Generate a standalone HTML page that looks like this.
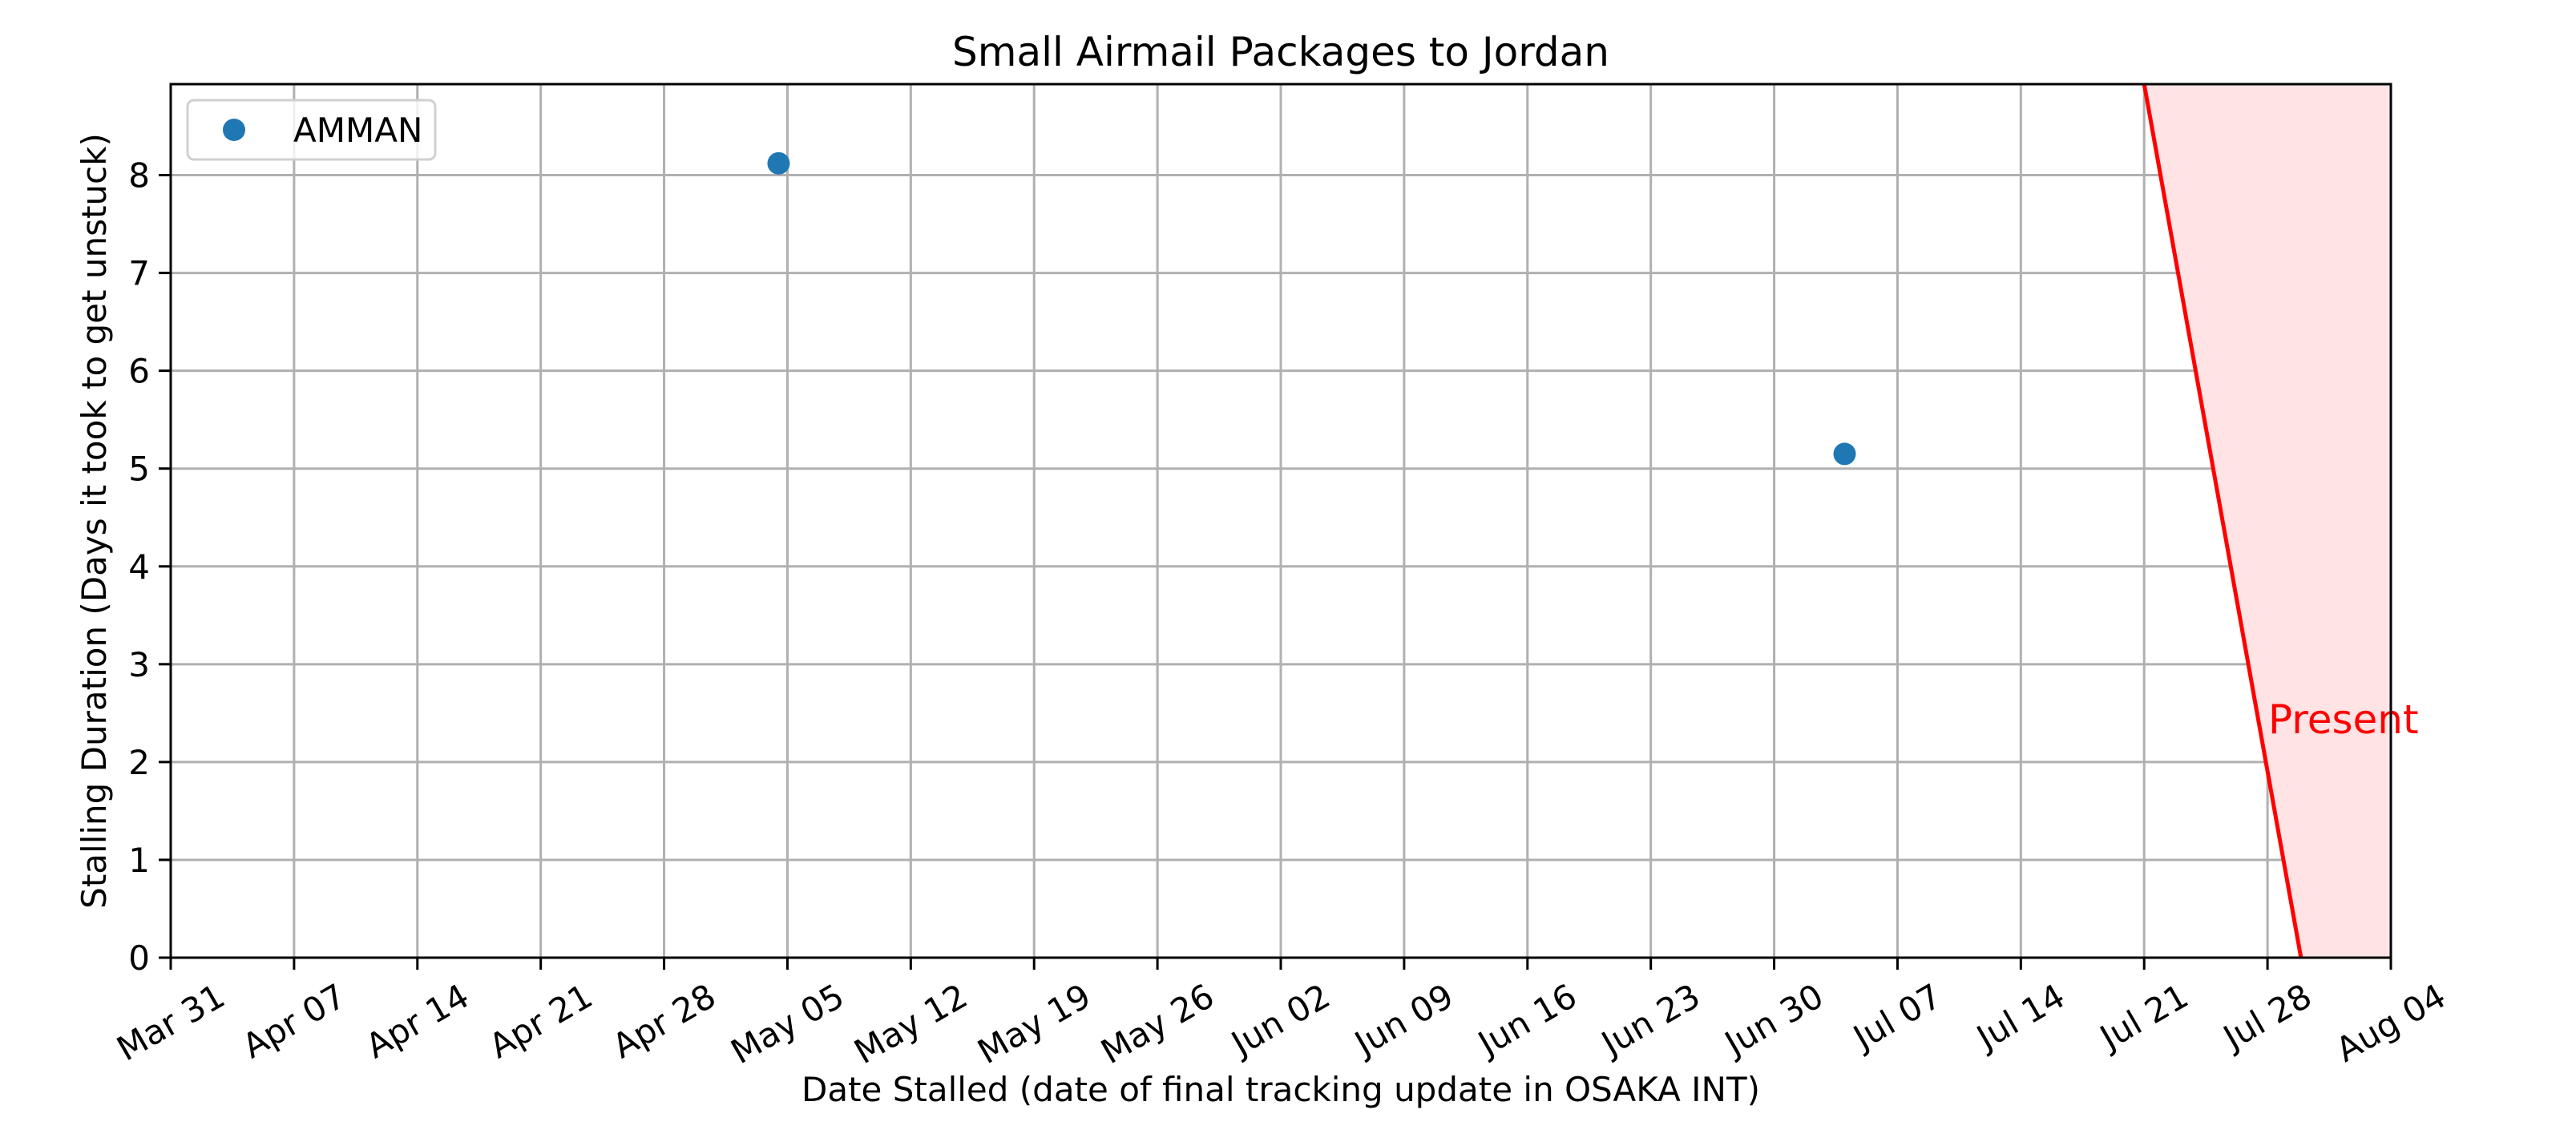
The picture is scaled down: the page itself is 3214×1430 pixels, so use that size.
<!DOCTYPE html>
<html><head><meta charset="utf-8">
<style>html,body{margin:0;padding:0;background:#fff}svg{display:block}text{font-family:"DejaVu Sans","Liberation Sans",sans-serif}</style>
</head><body>
<svg id="chart" width="3214" height="1430" viewBox="0 0 3214 1430" xmlns="http://www.w3.org/2000/svg">
<rect width="3214" height="1430" fill="#fff"/>
<g id="grid"></g>
<g id="shade"></g>
<g id="marks"></g>
<rect x="213" y="105" width="2770" height="1090" fill="none" stroke="#000" stroke-width="3"/>
<g id="ticks"></g>
<text x="1598" y="82" font-size="50" text-anchor="middle">Small Airmail Packages to Jordan</text>
<text x="1598" y="1374" font-size="42" text-anchor="middle">Date Stalled (date of final tracking update in OSAKA INT)</text>
<text transform="translate(132,650) rotate(-90)" font-size="42" text-anchor="middle">Stalling Duration (Days it took to get unstuck)</text>
<g>
<rect x="234" y="125" width="309" height="74" rx="8" fill="#fff" fill-opacity="0.8" stroke="#d0d0d0" stroke-width="3"/>
<circle cx="292" cy="162" r="14" fill="#1f77b4"/>
<text x="366" y="177" font-size="42">AMMAN</text>
</g>
</svg>
<script>
const xTickLabels = ["Mar 31","Apr 07","Apr 14","Apr 21","Apr 28","May 05","May 12","May 19","May 26","Jun 02","Jun 09","Jun 16","Jun 23","Jun 30","Jul 07","Jul 14","Jul 21","Jul 28","Aug 04"];
const yTicks = [0,1,2,3,4,5,6,7,8];
// days since Mar 31
const pointDays = [34.5, 95.0];
const pointValues = [8.12, 5.15];
const presentLineDays = [112, 120.9];
const presentLineValues = [8.93, 0];
const xMin = 0, xMax = 126, yMin = 0, yMax = 8.93;
const L = 213, R = 2983, T = 105, B = 1195;
const NS = "http://www.w3.org/2000/svg";
const xs = d => L + (d - xMin) / (xMax - xMin) * (R - L);
const ys = v => B - (v - yMin) / (yMax - yMin) * (B - T);
function mk(tag, attrs, parent) { const e = document.createElementNS(NS, tag); for (const k in attrs) e.setAttribute(k, attrs[k]); parent.appendChild(e); return e; }
const grid = document.getElementById('grid'), ticks = document.getElementById('ticks');
const TF = 42;
xTickLabels.forEach((lab, i) => {
  const x = xs(i * 7);
  const g = mk('line', {x1: x, x2: x, y1: T, y2: B, stroke: '#b0b0b0', 'stroke-width': 3}, grid);
  
  
  const t = mk('line', {x1: x, x2: x, y1: B, y2: B + 15, stroke: '#000', 'stroke-width': 3}, ticks);
  
  
  const tx = mk('text', {'font-size': TF, 'text-anchor': 'middle', 'dominant-baseline': 'central'}, ticks);
  tx.textContent = lab;
  
  
  const w = tx.getComputedTextLength();
  const h = TF * 1.0;
  const bh = w * 0.5 + h * 0.866;
  const cy = B + 26 + bh / 2;
  tx.setAttribute('transform', `translate(${x},${cy}) rotate(-30)`);
});
yTicks.forEach(v => {
  const y = ys(v);
  const g = mk('line', {x1: L, x2: R, y1: y, y2: y, stroke: '#b0b0b0', 'stroke-width': 3}, grid);
  
  
  const t = mk('line', {x1: L - 15, x2: L, y1: y, y2: y, stroke: '#000', 'stroke-width': 3}, ticks);
  
  
  const tx = mk('text', {x: L - 26, y: y + 15, 'font-size': TF, 'text-anchor': 'end'}, ticks);
  tx.textContent = v;
  
  
});
const shade = document.getElementById('shade');
const x0 = xs(presentLineDays[0]), y0 = ys(presentLineValues[0]), x1 = xs(presentLineDays[1]), y1 = ys(presentLineValues[1]);
const poly = mk('polygon', {points: `${x0},${y0} ${R},${T} ${R},${B} ${x1},${y1}`, fill: '#ffe3e5'}, shade);


const ln = mk('line', {x1: x0, y1: y0, x2: x1, y2: y1, stroke: '#ff0000', 'stroke-width': 5}, shade);


const pt = mk('text', {x: 2830, y: 915, 'font-size': 50, fill: '#ff0000'}, shade);
pt.textContent = 'Present';


const marks = document.getElementById('marks');
pointDays.forEach((d, i) => {
  const c = mk('circle', {cx: xs(d), cy: ys(pointValues[i]), r: 14, fill: '#1f77b4'}, marks);
  
  
});
</script>
</body></html>
